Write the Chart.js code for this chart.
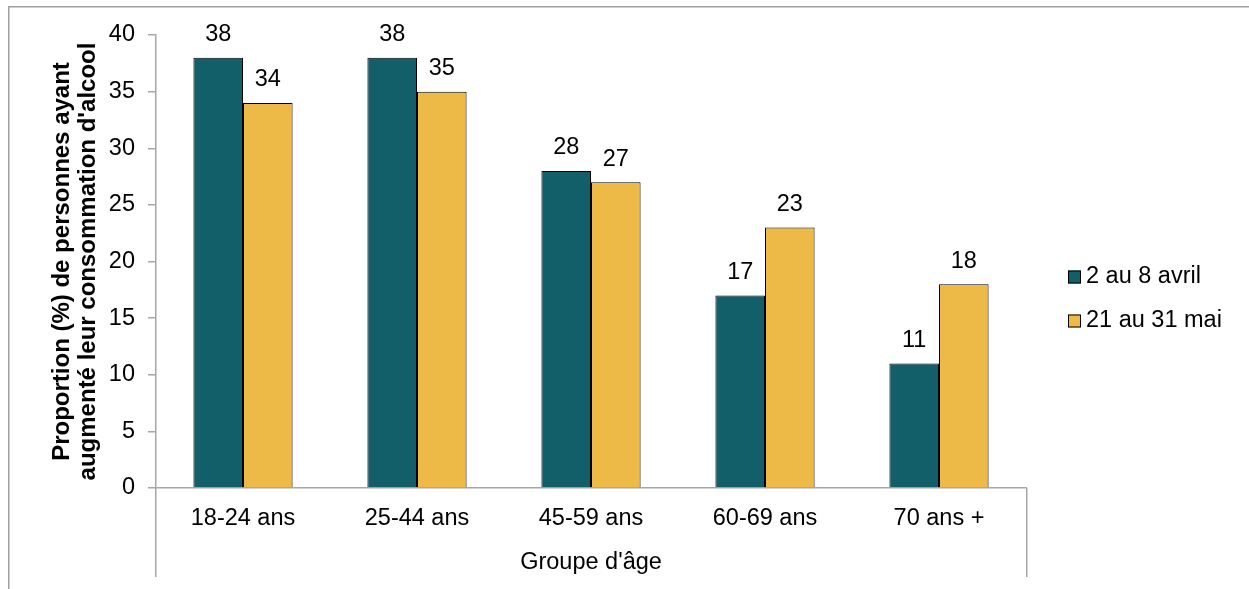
<!DOCTYPE html>
<html lang="fr">
<head>
<meta charset="utf-8">
<title>Consommation d'alcool selon le groupe d'âge</title>
<script src="https://cdn.jsdelivr.net/npm/chart.js@4"></script>
<style>
  html, body { margin: 0; padding: 0; background: #ffffff; }
  #wrap { width: 1249px; height: 589px; position: relative; }
</style>
</head>
<body>
<div id="wrap"><canvas id="chart" width="1249" height="589"></canvas></div>
<script>
// Groupes d'âge et proportions (%) pour les deux périodes d'enquête
const categories = ['18-24 ans', '25-44 ans', '45-59 ans', '60-69 ans', '70 ans +'];
const seriesLabels = ['2 au 8 avril', '21 au 31 mai'];
const avril = [38, 38, 28, 17, 11];
const mai = [34, 35, 27, 23, 18];
const yTicks = [0, 5, 10, 15, 20, 25, 30, 35, 40];

const TEAL = '#125f69';
const GOLD = '#eeba47';
const AXIS = '#a6a6a6';
const FONT = '"Liberation Sans", Arial, Helvetica, sans-serif';
const SIZE = 23.5;

// Valeurs au-dessus des barres
const valueLabels = {
  id: 'valueLabels',
  afterDatasetsDraw(chart) {
    const ctx = chart.ctx;
    ctx.save();
    ctx.font = SIZE + 'px ' + FONT;
    ctx.fillStyle = '#000';
    ctx.textAlign = 'center';
    ctx.textBaseline = 'middle';
    chart.data.datasets.forEach((ds, i) => {
      chart.getDatasetMeta(i).data.forEach((bar, j) => {
        ctx.fillText(String(ds.data[j]), bar.x, bar.y - 23);
      });
    });
    ctx.restore();
  }
};

// Légende à droite, cadre et prolongements des axes
const decor = {
  id: 'decor',
  afterDraw(chart) {
    const ctx = chart.ctx;
    const a = chart.chartArea;
    ctx.save();
    // cadre du graphique (haut et gauche)
    ctx.fillStyle = '#a0a0a0';
    ctx.fillRect(8, 6, chart.width - 8, 1.5);
    ctx.fillRect(8, 6, 1.5, chart.height - 6);
    // prolongements verticaux sous l'axe des abscisses
    ctx.fillStyle = AXIS;
    ctx.fillRect(a.left - 1, a.bottom, 1.5, 577 - a.bottom);
    ctx.fillRect(a.right, a.bottom, 1.5, 577 - a.bottom);
    // légende
    ctx.font = SIZE + 'px ' + FONT;
    ctx.textAlign = 'left';
    ctx.textBaseline = 'middle';
    chart.data.datasets.forEach((ds, i) => {
      const cy = 277 + i * 44;
      ctx.fillStyle = ds.backgroundColor;
      ctx.fillRect(1068, cy - 6.5, 13, 13);
      ctx.strokeStyle = '#000';
      ctx.lineWidth = 1;
      ctx.strokeRect(1068.5, cy - 6, 12, 12);
      ctx.fillStyle = '#000';
      ctx.fillText(ds.label, 1086, cy);
    });
    ctx.restore();
  }
};

new Chart(document.getElementById('chart'), {
  type: 'bar',
  data: {
    labels: categories,
    datasets: [
      { label: seriesLabels[0], data: avril, backgroundColor: TEAL, borderColor: '#000', borderWidth: 1 },
      { label: seriesLabels[1], data: mai, backgroundColor: GOLD, borderColor: '#000', borderWidth: 1 }
    ]
  },
  options: {
    responsive: false,
    animation: false,
    devicePixelRatio: 1,
    layout: { padding: { top: 35, right: 223, bottom: 0, left: 0 } },
    datasets: { bar: { categoryPercentage: 0.57, barPercentage: 1.0 } },
    plugins: {
      legend: { display: false },
      tooltip: { enabled: false }
    },
    scales: {
      x: {
        afterFit(scale) { scale.height = 101; },
        grid: { display: false, drawTicks: false },
        border: { display: true, color: AXIS, width: 1.5 },
        ticks: { color: '#000', font: { family: FONT, size: SIZE }, padding: 16, maxRotation: 0 },
        title: {
          display: true,
          text: "Groupe d'âge",
          color: '#000',
          font: { family: FONT, size: SIZE },
          padding: { top: 0, bottom: 12 }
        }
      },
      y: {
        min: 0,
        max: 40,
        afterFit(scale) { scale.width = 156; },
        afterBuildTicks(scale) { scale.ticks = yTicks.map(v => ({ value: v })); },
        grid: { display: true, drawOnChartArea: false, drawTicks: true, tickLength: 8, color: AXIS, lineWidth: 1.5 },
        border: { display: true, color: AXIS, width: 1.5 },
        ticks: { color: '#000', font: { family: FONT, size: SIZE }, padding: 13 },
        title: {
          display: true,
          text: ['Proportion (%) de personnes ayant', "augmenté leur consommation d'alcool"],
          color: '#000',
          font: { family: FONT, size: 24, weight: 'bold', lineHeight: '26px' },
          padding: { top: 49, bottom: 0 }
        }
      }
    }
  },
  plugins: [valueLabels, decor]
});
</script>
</body>
</html>
